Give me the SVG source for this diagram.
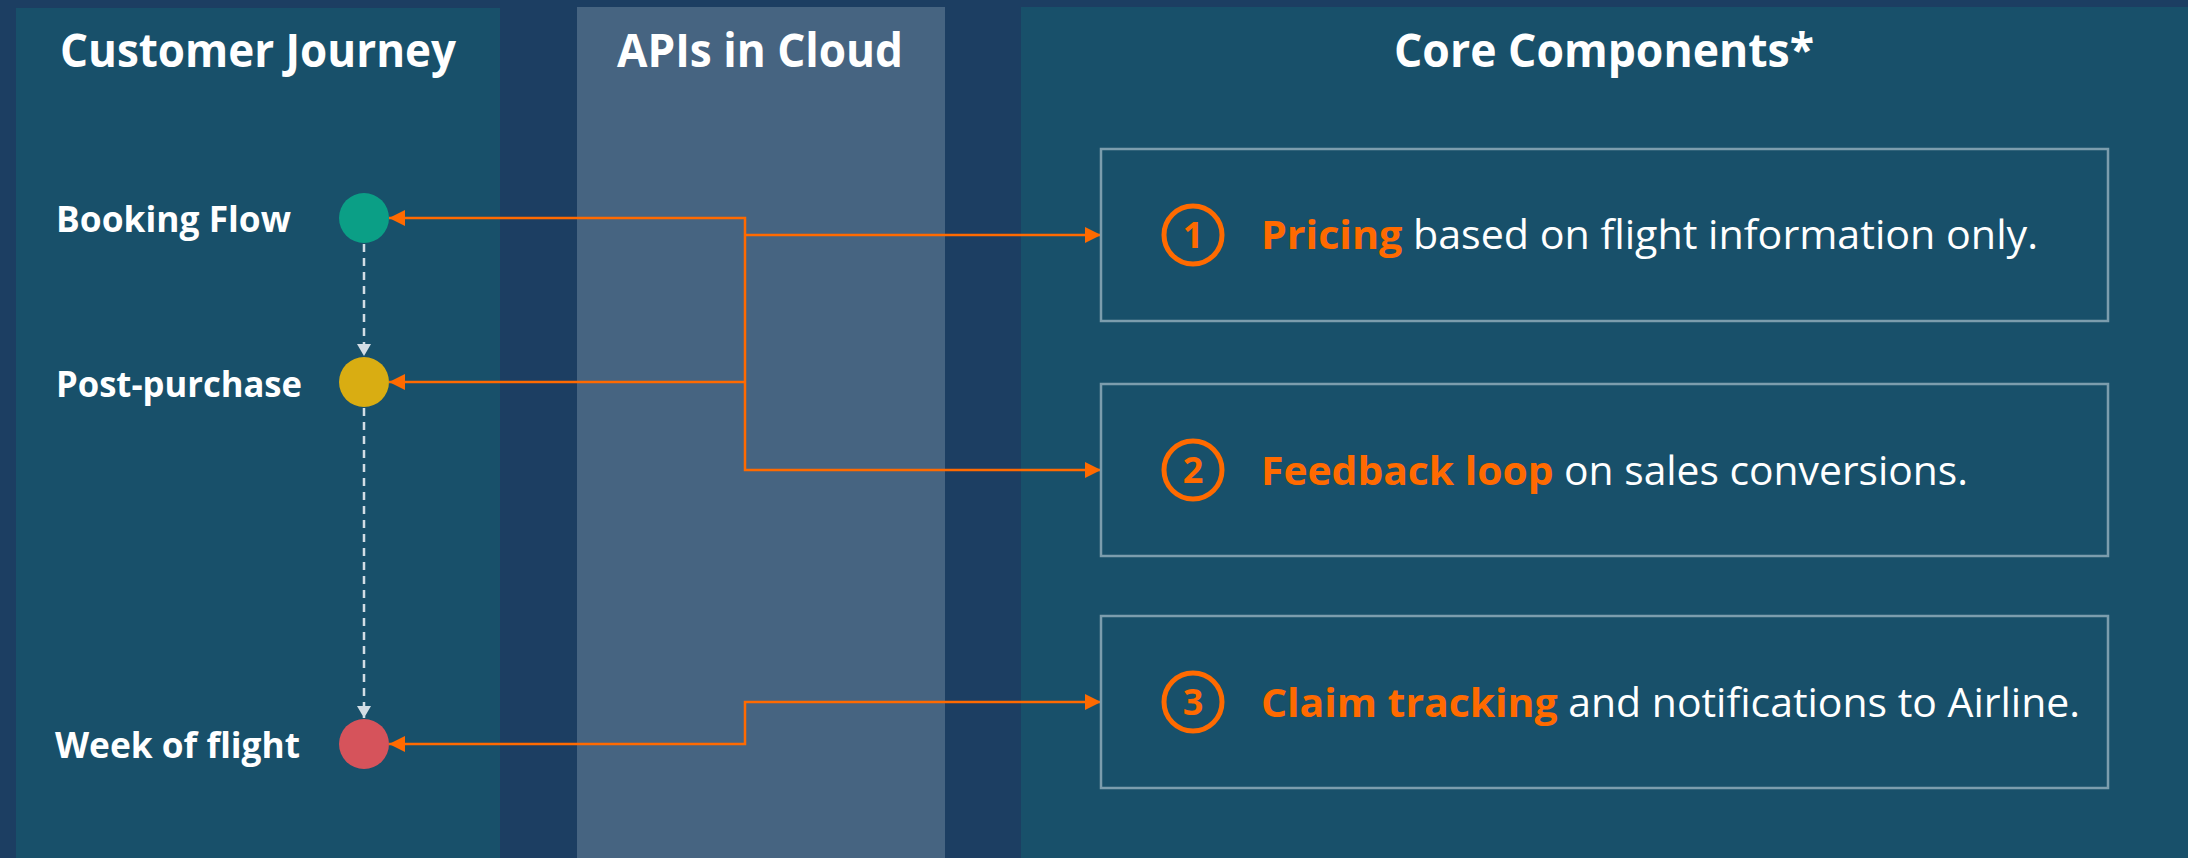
<svg xmlns="http://www.w3.org/2000/svg" width="2188" height="858" viewBox="0 0 2188 858">
<style>
.panel{fill:#18506a}
.api{fill:#466481}
.title{font-family:"Open Sans","Liberation Sans",sans-serif;font-weight:700;font-size:47px;fill:#ffffff}
.lbl{font-family:"Open Sans","Liberation Sans",sans-serif;font-weight:700;font-size:35px;fill:#ffffff}
.box{fill:none;stroke:#7c9dad;stroke-width:2.5}
.btxt{font-family:"Open Sans","Liberation Sans",sans-serif;font-size:40px;fill:#ffffff}
.hl{font-weight:700;fill:#ff6a00}
.num{font-family:"Open Sans","Liberation Sans",sans-serif;font-weight:700;font-size:36px;fill:#ff6a00}
.ring{fill:none;stroke:#ff6a00;stroke-width:5}
.conn{fill:none;stroke:#ff6a00;stroke-width:2.5}
.dash{fill:none;stroke:#d2dde5;stroke-width:2.5;stroke-dasharray:8 6}
</style>
<defs>
<marker id="ao" viewBox="0 0 16 16" refX="16" refY="8" markerWidth="16" markerHeight="16" markerUnits="userSpaceOnUse" orient="auto-start-reverse">
<path d="M0,0 L16,8 L0,16 z" fill="#ff6a00"/>
</marker>
<marker id="ag" viewBox="0 0 12 14" refX="12" refY="7" markerWidth="12" markerHeight="14" markerUnits="userSpaceOnUse" orient="auto">
<path d="M0,0 L12,7 L0,14 z" fill="#d2dde5"/>
</marker>
</defs>
<rect x="0" y="0" width="2188" height="858" fill="#1c3e62"/>
<g id="lanes">
<rect class="panel" x="16" y="8" width="484" height="850"/>
<rect class="api" x="577" y="7" width="368" height="851"/>
<rect class="panel" x="1021" y="7" width="1167" height="851"/>
<text class="title" x="258" y="67" text-anchor="middle" textLength="396" lengthAdjust="spacingAndGlyphs">Customer Journey</text>
<text class="title" x="760" y="67" text-anchor="middle" textLength="286" lengthAdjust="spacingAndGlyphs">APIs in Cloud</text>
<text class="title" x="1604" y="67" text-anchor="middle" textLength="420" lengthAdjust="spacingAndGlyphs">Core Components*</text>
</g>
<g id="connectors">
<line class="dash" x1="364" y1="244" x2="364" y2="356" marker-end="url(#ag)"/>
<line class="dash" x1="364" y1="408" x2="364" y2="718" marker-end="url(#ag)"/>
<polyline class="conn" points="389,218 745,218 745,470 1101,470" marker-start="url(#ao)" marker-end="url(#ao)"/>
<line class="conn" x1="745" y1="235" x2="1101" y2="235" marker-end="url(#ao)"/>
<line class="conn" x1="745" y1="382" x2="389" y2="382" marker-end="url(#ao)"/>
<polyline class="conn" points="389,744 745,744 745,702 1101,702" marker-start="url(#ao)" marker-end="url(#ao)"/>
</g>
<g id="booking">
<text class="lbl" x="56" y="232" textLength="235" lengthAdjust="spacingAndGlyphs">Booking Flow</text>
<circle cx="364" cy="218" r="25" fill="#0b9f86"/>
</g>
<g id="postpurchase">
<text class="lbl" x="56" y="397" textLength="246" lengthAdjust="spacingAndGlyphs">Post-purchase</text>
<circle cx="364" cy="382" r="25" fill="#d9ad12"/>
</g>
<g id="weekofflight">
<text class="lbl" x="55" y="758" textLength="245" lengthAdjust="spacingAndGlyphs">Week of flight</text>
<circle cx="364" cy="744" r="25" fill="#d6535b"/>
</g>
<g id="pricing">
<rect class="box" x="1101" y="149" width="1007" height="172"/>
<circle class="ring" cx="1193" cy="235" r="29"/>
<text class="num" x="1193" y="248" text-anchor="middle">1</text>
<text class="btxt" x="1261" y="249" textLength="777" lengthAdjust="spacingAndGlyphs"><tspan class="hl">Pricing</tspan> based on flight information only.</text>
</g>
<g id="feedback">
<rect class="box" x="1101" y="384" width="1007" height="172"/>
<circle class="ring" cx="1193" cy="470" r="29"/>
<text class="num" x="1193" y="483" text-anchor="middle">2</text>
<text class="btxt" x="1261" y="485" textLength="707" lengthAdjust="spacingAndGlyphs"><tspan class="hl">Feedback loop</tspan> on sales conversions.</text>
</g>
<g id="claims">
<rect class="box" x="1101" y="616" width="1007" height="172"/>
<circle class="ring" cx="1193" cy="702" r="29"/>
<text class="num" x="1193" y="715" text-anchor="middle">3</text>
<text class="btxt" x="1261" y="717" textLength="819" lengthAdjust="spacingAndGlyphs"><tspan class="hl">Claim tracking</tspan> and notifications to Airline.</text>
</g>
</svg>
